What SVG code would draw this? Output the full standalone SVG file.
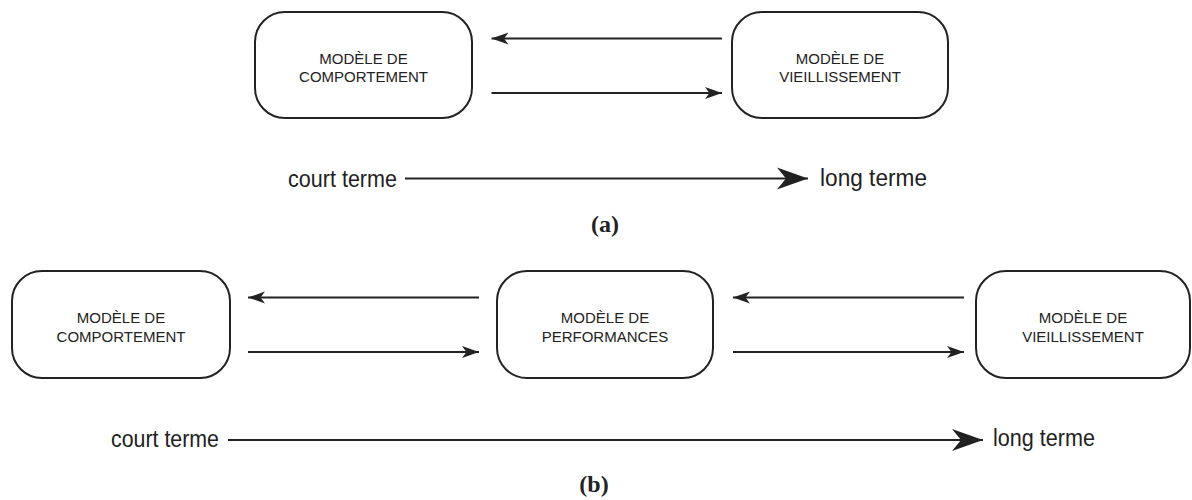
<svg xmlns="http://www.w3.org/2000/svg" width="1192" height="500" viewBox="0 0 1192 500">
<defs>
<style>
.box{fill:#fff;stroke:#222;stroke-width:2}
.bt{font-family:"Liberation Sans",Arial,sans-serif;font-size:15px;fill:#222;text-anchor:middle}
.ax{font-family:"Liberation Sans",Arial,sans-serif;font-size:23px;fill:#222}
.cap{font-family:"Liberation Serif","DejaVu Serif",serif;font-size:24px;font-weight:bold;fill:#222;text-anchor:middle}
.con{stroke:#222;stroke-width:2;fill:none}
.small{marker-end:url(#ah)}
.big{marker-end:url(#bh)}
</style>
<marker id="ah" markerUnits="userSpaceOnUse" markerWidth="20" markerHeight="16" viewBox="-18 -8 19 16" refX="0" refY="0" orient="auto">
<path d="M0,0 L-17,-6 L-12.5,0 L-17,6 Z" fill="#222"/>
</marker>
<marker id="bh" markerUnits="userSpaceOnUse" markerWidth="34" markerHeight="26" viewBox="-32 -13 33 26" refX="0" refY="0" orient="auto">
<path d="M0,0 L-31,-11 L-22,0 L-31,11 Z" fill="#222"/>
</marker>
</defs>

<g id="a-comportement">
<rect class="box" x="255" y="12" width="217" height="106" rx="30"/>
<text class="bt" x="363.5" y="63.5">MODÈLE DE</text>
<text class="bt" x="363.5" y="82">COMPORTEMENT</text>
</g>
<g id="a-vieillissement">
<rect class="box" x="732" y="12" width="216" height="106" rx="30"/>
<text class="bt" x="840" y="63.5">MODÈLE DE</text>
<text class="bt" x="840" y="82">VIEILLISSEMENT</text>
</g>

<g id="b-comportement">
<rect class="box" x="12" y="271" width="218" height="107" rx="30"/>
<text class="bt" x="121" y="323">MODÈLE DE</text>
<text class="bt" x="121" y="341.5">COMPORTEMENT</text>
</g>
<g id="b-performances">
<rect class="box" x="497" y="271" width="216" height="107" rx="30"/>
<text class="bt" x="605" y="323">MODÈLE DE</text>
<text class="bt" x="605" y="341.5">PERFORMANCES</text>
</g>
<g id="b-vieillissement">
<rect class="box" x="976" y="271" width="214" height="107" rx="30"/>
<text class="bt" x="1083" y="323">MODÈLE DE</text>
<text class="bt" x="1083" y="341.5">VIEILLISSEMENT</text>
</g>

<g id="connectors">
<line class="con small" x1="722" y1="38.5" x2="491.5" y2="38.5"/>
<line class="con small" x1="491.5" y1="93" x2="722" y2="93"/>
<line class="con small" x1="479" y1="297.5" x2="248" y2="297.5"/>
<line class="con small" x1="248" y1="352" x2="479" y2="352"/>
<line class="con small" x1="964" y1="297.5" x2="733" y2="297.5"/>
<line class="con small" x1="733" y1="352" x2="964" y2="352"/>
<line class="con big" x1="405" y1="178.5" x2="808" y2="178.5"/>
<line class="con big" x1="228" y1="440" x2="983" y2="440"/>
</g>

<g id="axis-a">
<text class="ax" x="288" y="187" textLength="109" lengthAdjust="spacingAndGlyphs">court terme</text>
<text class="ax" x="820" y="186" textLength="107" lengthAdjust="spacingAndGlyphs">long terme</text>
<text class="cap" x="605" y="231.5">(a)</text>
</g>
<g id="axis-b">
<text class="ax" x="111" y="447" textLength="108" lengthAdjust="spacingAndGlyphs">court terme</text>
<text class="ax" x="993" y="446" textLength="102" lengthAdjust="spacingAndGlyphs">long terme</text>
<text class="cap" x="594" y="492">(b)</text>
</g>
</svg>
